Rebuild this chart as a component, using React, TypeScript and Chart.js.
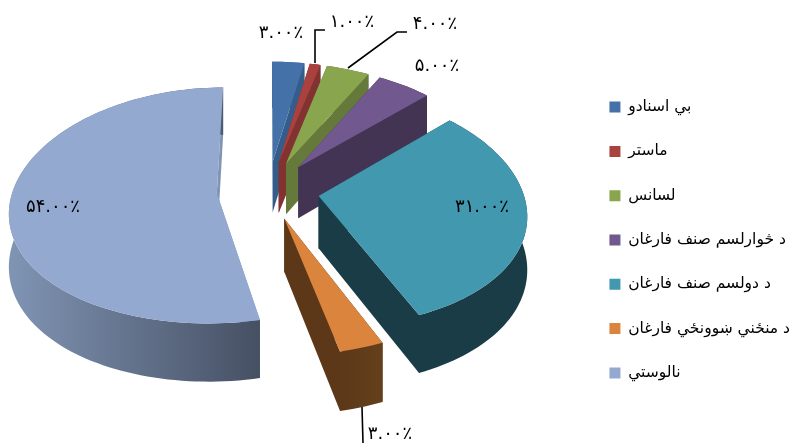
import React, { useEffect, useRef } from "react";
import { Chart, registerables } from "chart.js";

Chart.register(...registerables);

const categories = [
  "بي اسنادو",
  "ماستر",
  "لسانس",
  "د څوارلسم صنف فارغان",
  "د دولسم صنف فارغان",
  "د منځني ښوونځي فارغان",
  "نالوستي",
];
const values = [3, 1, 4, 5, 31, 3, 54];
const topColors = ["#4472a8", "#a9423f", "#89a54e", "#71588f", "#4198af", "#db843d", "#93a9cf"];
const wallColors = ["#355d8c", "#823331", "#657a3a", "#443454", "#1a3c47", "#5c3818", "#8094b4"];
const rimEndColors = ["#355d8c", "#823331", "#657a3a", "#443454", "#1a3c47", "#64401c", "#465063"];
const labelCenters = [
  [281, 33],
  [352, 22],
  [435, 24],
  [437, 66],
  [482, 207],
  [53, 207],
  [390, 434],
];
// order of labelCenters: slices 0,1,2,3,4,6,5
const labelSlice = [0, 1, 2, 3, 4, 6, 5];
const leaders = [
  [[315, 63], [315, 30], [325, 30]],
  [[348, 68], [397, 32], [407, 32]],
  [[362, 407], [363, 443]],
];

const view = { cx: 268, cy: 190, A: 204, B: 116, kx: 0.14, ky: 0.104, depth: 52 };

const faDigits = "۰۱۲۳۴۵۶۷۸۹";
const fmt = (v: number) => v.toFixed(2).replace(/\d/g, (d) => faDigits[+d]) + "٪";

function project(X: number, Y: number, down = false) {
  const sy = 1 + view.ky * Y;
  return {
    x: view.cx + (view.A * X) / (1 + view.kx * Y),
    y: view.cy - (view.B * Y) / sy + (down ? view.depth / sy : 0),
  };
}

const pie3d = {
  id: "pie3d",
  beforeDatasetsDraw(chart: any) {
    const ctx = chart.ctx as CanvasRenderingContext2D;
    const arcs = chart.getDatasetMeta(0).data;
    arcs.forEach((arc: any, i: number) => {
      const R = arc.outerRadius;
      const a0 = arc.startAngle;
      const a1 = arc.endAngle;
      const mid = (a0 + a1) / 2;
      const d = arc.options.offset / R;
      const ox = Math.cos(mid) * d;
      const oy = -Math.sin(mid) * d;
      const n = Math.max(4, Math.ceil((a1 - a0) / 0.03));
      const rim: [number, number][] = [];
      for (let j = 0; j <= n; j++) {
        const a = a0 + ((a1 - a0) * j) / n;
        rim.push([Math.cos(a) + ox, -Math.sin(a) + oy]);
      }
      const poly = (pts: { x: number; y: number }[], fill: any) => {
        ctx.beginPath();
        pts.forEach((p, idx) => (idx ? ctx.lineTo(p.x, p.y) : ctx.moveTo(p.x, p.y)));
        ctx.closePath();
        ctx.fillStyle = fill;
        ctx.fill();
      };
      // radial walls
      const apexTop = project(ox, oy);
      const apexBot = project(ox, oy, true);
      [rim[0], rim[n]].forEach((c) => {
        poly([apexTop, project(c[0], c[1]), project(c[0], c[1], true), apexBot], wallColors[i]);
      });
      // outer rim
      const topPts = rim.map((c) => project(c[0], c[1]));
      const botPts = rim.map((c) => project(c[0], c[1], true)).reverse();
      const xs = topPts.map((p) => p.x);
      const grad = ctx.createLinearGradient(Math.min(...xs), 0, Math.max(...xs), 0);
      grad.addColorStop(0, wallColors[i]);
      grad.addColorStop(1, rimEndColors[i]);
      poly([...topPts, ...botPts], grad);
      // top face
      poly([apexTop, ...topPts], arc.options.backgroundColor);
    });
    // leader lines
    ctx.save();
    ctx.strokeStyle = "#000";
    ctx.lineWidth = 1.6;
    leaders.forEach((l) => {
      ctx.beginPath();
      l.forEach((p, idx) => (idx ? ctx.lineTo(p[0], p[1]) : ctx.moveTo(p[0], p[1])));
      ctx.stroke();
    });
    // value labels
    ctx.fillStyle = "#000";
    ctx.font = '18px "DejaVu Sans"';
    ctx.textAlign = "center";
    ctx.textBaseline = "middle";
    (ctx as any).letterSpacing = "1.5px";
    labelCenters.forEach((c, i) => {
      ctx.fillText(fmt(values[labelSlice[i]]), c[0], c[1]);
    });
    ctx.restore();
    return false;
  },
};

export default function App() {
  const ref = useRef<HTMLCanvasElement>(null);
  useEffect(() => {
    const chart = new Chart(ref.current!, {
      type: "pie",
      data: {
        labels: categories,
        datasets: [
          {
            data: values,
            backgroundColor: topColors,
            borderWidth: 0,
            offset: 46,
          },
        ],
      },
      options: {
        responsive: false,
        animation: false,
        layout: { padding: { top: 34, right: 0 } },
        plugins: {
          tooltip: { enabled: false },
          legend: {
            position: "right",
            labels: {
              boxWidth: 11,
              boxHeight: 11,
              padding: 28.8,
              color: "#000",
              font: { family: '"DejaVu Sans"', size: 15.5 },
            },
          },
        },
      },
      plugins: [pie3d],
    } as any);
    return () => chart.destroy();
  }, []);
  return (
    <div style={{ position: "absolute", left: 0, top: 0, width: 800, height: 446, background: "#fff" }}>
      <canvas ref={ref} width={800} height={446} style={{ display: "block" }} />
    </div>
  );
}
